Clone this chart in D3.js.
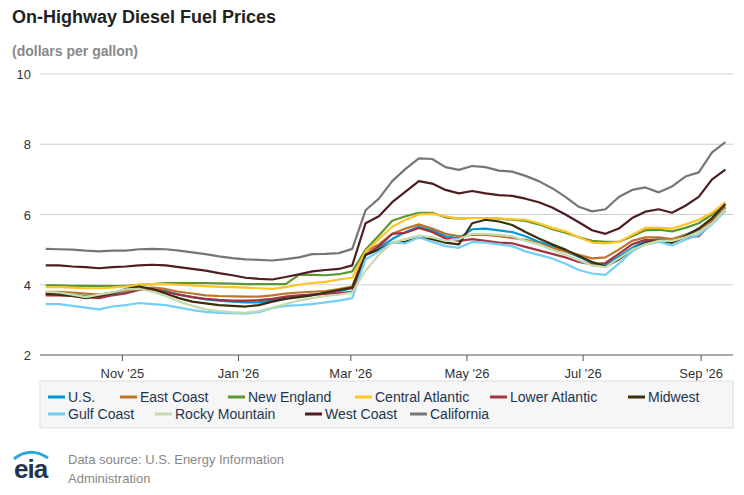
<!DOCTYPE html>
<html><head><meta charset="utf-8">
<script src="https://cdn.jsdelivr.net/npm/d3@7"></script>
<style>body{margin:0;background:#fff;font-family:Arial,"Liberation Sans",sans-serif;}</style>
</head><body><svg id="chart" width="744" height="495"></svg>
<script>
// weekly prices, Mondays from 2025-09-22 (24 weeks before the March jump + 28 after)
const startDate = new Date(2025, 8, 22);
const usPrices = [3.75,3.75,3.72,3.68,3.65,3.72,3.78, 3.88,3.9,3.82,3.72,3.65,3.58,3.55, 3.52,3.5,3.5,3.55,3.62,3.68,3.72, 3.75,3.82,3.9,
  4.85,5.05,5.3,5.5,5.65,5.55,5.38, 5.32,5.58,5.6,5.55,5.5,5.38,5.22, 5.1,4.95,4.8,4.62,4.58,4.8,5.05, 5.25,5.3,5.25,5.42,5.58,5.85,6.2];
const eastCoast = [3.8,3.8,3.78,3.75,3.72,3.78,3.82, 3.9,3.92,3.88,3.8,3.75,3.7,3.68, 3.67,3.66,3.66,3.7,3.75,3.78,3.8, 3.82,3.88,3.95,
  4.95,5.15,5.45,5.6,5.72,5.6,5.45, 5.38,5.42,5.42,5.38,5.33,5.28,5.18, 5.05,4.95,4.85,4.75,4.78,5.0,5.25, 5.35,5.35,5.3,5.42,5.52,5.85,6.22];
const newEngland = [3.98,3.98,3.97,3.97,3.96,3.96,3.97, 4.0,4.02,4.05,4.05,4.05,4.05,4.04, 4.03,4.02,4.02,4.02,4.02,4.28,4.28, 4.27,4.3,4.38,
  5.0,5.4,5.82,5.95,6.05,6.05,5.92, 5.88,5.9,5.9,5.88,5.85,5.82,5.72, 5.58,5.48,5.35,5.25,5.22,5.22,5.38, 5.55,5.57,5.52,5.62,5.75,6.0,6.28];
const centralAtlantic = [3.93,3.93,3.92,3.9,3.9,3.92,3.95, 4.0,4.02,4.02,4.0,3.98,3.96,3.94, 3.93,3.92,3.9,3.88,3.93,4.0,4.05, 4.08,4.15,4.2,
  4.95,5.3,5.65,5.85,6.0,6.02,5.95, 5.88,5.9,5.9,5.88,5.87,5.85,5.75, 5.62,5.52,5.35,5.2,5.18,5.22,5.42, 5.62,5.62,5.6,5.72,5.85,6.05,6.35];
const lowerAtlantic = [3.7,3.7,3.68,3.65,3.62,3.7,3.75, 3.85,3.87,3.8,3.72,3.65,3.6,3.57, 3.55,3.55,3.56,3.6,3.66,3.7,3.72, 3.74,3.76,3.8,
  4.85,5.1,5.45,5.48,5.62,5.5,5.32, 5.25,5.3,5.25,5.2,5.18,5.08,4.98, 4.88,4.78,4.65,4.58,4.62,4.88,5.15, 5.28,5.25,5.2,5.35,5.38,5.78,6.12];
const midwest = [3.75,3.72,3.68,3.62,3.68,3.75,3.88, 3.95,3.88,3.75,3.62,3.52,3.47,3.42, 3.4,3.38,3.42,3.52,3.6,3.65,3.7, 3.78,3.85,3.92,
  4.85,5.0,5.2,5.22,5.35,5.3,5.2, 5.15,5.75,5.85,5.8,5.7,5.5,5.32, 5.15,5.0,4.82,4.65,4.52,4.72,5.0, 5.2,5.25,5.2,5.38,5.6,5.9,6.3];
const gulfCoast = [3.45,3.45,3.4,3.35,3.3,3.38,3.42, 3.48,3.45,3.42,3.35,3.28,3.23,3.2, 3.19,3.18,3.22,3.33,3.4,3.42,3.45, 3.5,3.55,3.62,
  4.72,4.95,5.2,5.18,5.35,5.22,5.1, 5.05,5.22,5.2,5.15,5.1,4.95,4.85, 4.75,4.6,4.42,4.32,4.28,4.6,4.95, 5.15,5.22,5.12,5.28,5.42,5.72,6.1];
const rockyMountain = [3.8,3.78,3.72,3.65,3.72,3.78,3.87, 3.88,3.8,3.68,3.52,3.4,3.3,3.25, 3.22,3.2,3.25,3.35,3.45,3.55,3.62, 3.68,3.72,3.78,
  4.4,4.85,5.2,5.3,5.4,5.35,5.25, 5.3,5.45,5.45,5.42,5.38,5.25,5.15, 5.0,4.85,4.7,4.55,4.5,4.75,5.0, 5.15,5.25,5.25,5.35,5.5,5.75,6.15];
const westCoast = [4.55,4.55,4.52,4.5,4.47,4.5,4.52, 4.55,4.57,4.55,4.5,4.45,4.4,4.33, 4.27,4.2,4.17,4.15,4.22,4.3,4.38, 4.42,4.45,4.55,
  5.75,5.95,6.35,6.65,6.95,6.88,6.7, 6.6,6.67,6.6,6.55,6.53,6.45,6.35, 6.2,6.0,5.78,5.55,5.45,5.6,5.9, 6.08,6.15,6.05,6.25,6.5,7.0,7.28];
const california = [5.02,5.01,5.0,4.97,4.95,4.97,4.97, 5.01,5.02,5.01,4.97,4.92,4.87,4.81, 4.76,4.72,4.71,4.69,4.73,4.78,4.87, 4.88,4.9,5.02,
  6.12,6.45,6.95,7.3,7.6,7.58,7.35, 7.27,7.38,7.35,7.25,7.22,7.1,6.95, 6.75,6.5,6.22,6.09,6.15,6.5,6.7, 6.77,6.63,6.8,7.08,7.2,7.77,8.06];

const seriesNames = ["U.S.","East Coast","New England","Central Atlantic","Lower Atlantic","Midwest","Gulf Coast","Rocky Mountain","West Coast","California"];
const seriesValues = [usPrices,eastCoast,newEngland,centralAtlantic,lowerAtlantic,midwest,gulfCoast,rockyMountain,westCoast,california];
const seriesColors = ["#0096d7","#bd732a","#5d9732","#ffc425","#a33340","#3b2e0b","#73cff5","#c2dbb0","#4f1c20","#767676"];
const yTicks = [2,4,6,8,10];
const xTickDates = [new Date(2025,10,1),new Date(2026,0,1),new Date(2026,2,1),new Date(2026,4,1),new Date(2026,6,1),new Date(2026,8,1)];

const svg = d3.select("#chart");
const dates = usPrices.map((_, i) => d3.timeDay.offset(startDate, 7*i));

const x = d3.scaleTime().domain([d3.timeDay.offset(startDate,-3), d3.timeDay.offset(dates[dates.length-1], 4)]).range([40, 733]);
const y = d3.scaleLinear().domain([2,10]).range([355, 74]);

svg.append("text").attr("x",12).attr("y",23).attr("font-size",18).attr("font-weight","bold").attr("fill","#222").text("On-Highway Diesel Fuel Prices");
svg.append("text").attr("x",12).attr("y",56).attr("font-size",14).attr("font-weight","bold").attr("fill","#888").text("(dollars per gallon)");

// grid
svg.append("g").selectAll("line").data(yTicks.slice(1)).join("line")
  .attr("x1",40).attr("x2",733).attr("y1",d=>y(d)).attr("y2",d=>y(d))
  .attr("stroke","#cfcfcf").attr("stroke-width",1);
svg.append("g").selectAll("text").data(yTicks).join("text")
  .attr("x",31).attr("y",d=>y(d)+5).attr("text-anchor","end")
  .attr("font-size",13).attr("fill","#333").text(d=>d);

const xAxis = svg.append("g").attr("transform","translate(0,355)")
  .call(d3.axisBottom(x).tickValues(xTickDates).tickSize(6).tickFormat(d3.timeFormat("%b '%y")));
xAxis.select(".domain").attr("d","M40,0H733").attr("stroke","#555");
xAxis.selectAll("line").attr("stroke","#555");
xAxis.selectAll("text").attr("font-size",13).attr("fill","#333").attr("font-family","Arial,'Liberation Sans',sans-serif").attr("dy","1.1em");

const line = d3.line().x((d,i)=>x(dates[i])).y(d=>y(d));
svg.append("g").selectAll("path").data(seriesValues).join("path")
  .attr("d", line).attr("fill","none")
  .attr("stroke",(d,i)=>seriesColors[i]).attr("stroke-width",2.2).attr("stroke-linejoin","round");

// legend
svg.append("rect").attr("x",40).attr("y",381).attr("width",693).attr("height",47)
  .attr("fill","#f6f6f6").attr("stroke","#ddd");
const legendPos = [[48,397],[120,397],[228,397],[355,397],[490,397],[628,397],[48,414],[155,414],[305,414],[410,414]];
const lg = svg.append("g").selectAll("g").data(seriesNames).join("g")
  .attr("transform",(d,i)=>`translate(${legendPos[i][0]},${legendPos[i][1]})`);
lg.append("line").attr("x1",0).attr("x2",17).attr("stroke",(d,i)=>seriesColors[i]).attr("stroke-width",3);
lg.append("text").attr("x",20).attr("y",5).attr("font-size",14).attr("fill","#1f3550").text(d=>d);

// footer
svg.append("text").attr("x",14).attr("y",478).attr("font-size",26).attr("font-weight","bold").attr("fill","#1f3550").attr("letter-spacing",-1).text("eia");
svg.append("path").attr("d","M14,459 Q30,446 48,458").attr("fill","none").attr("stroke","#2aa8dc").attr("stroke-width",3);
svg.append("text").attr("x",68).attr("y",464).attr("font-size",13).attr("fill","#888").text("Data source: U.S. Energy Information");
svg.append("text").attr("x",68).attr("y",483).attr("font-size",13).attr("fill","#888").text("Administration");
</script></body></html>
